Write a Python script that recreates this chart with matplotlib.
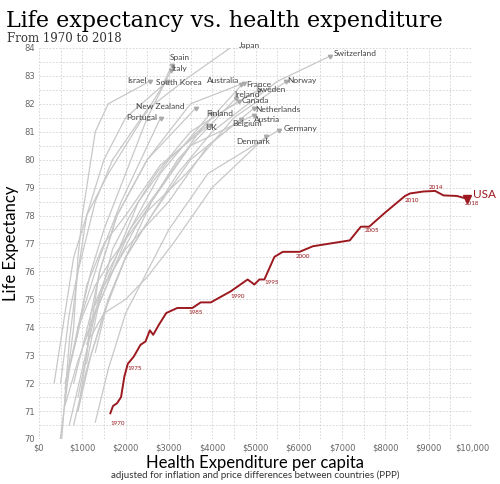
import matplotlib
matplotlib.use("Agg")
import matplotlib.pyplot as plt
from matplotlib.ticker import MultipleLocator, FuncFormatter

# USA trajectory (spending per capita, life expectancy)
usa_x = [1647, 1709, 1802, 1895, 1972, 2050, 2189, 2343, 2459, 2560, 2637, 2769, 2939,
         3194, 3542, 3735, 3968, 4432, 4818, 4973, 5089, 5205, 5437, 5630, 6017, 6326,
         7177, 7432, 7625, 7989, 8453, 8569, 8878, 9149, 9342, 9652, 9884]
usa_y = [70.92, 71.18, 71.28, 71.50, 72.24, 72.69, 72.95, 73.37, 73.49, 73.89, 73.73, 74.09,
         74.51, 74.69, 74.69, 74.89, 74.89, 75.29, 75.71, 75.53, 75.71, 75.71, 76.52, 76.70,
         76.70, 76.90, 77.11, 77.60, 77.60, 78.10, 78.70, 78.79, 78.86, 78.88, 78.72, 78.70, 78.60]
# year labels: (year, index into usa arrays, dx, dy)
usa_years = [("1970", 0, 0, -0.35), ("1975", 5, 0, -0.15), ("1985", 14, -100, -0.15),
             ("1990", 17, 0, -0.2), ("1995", 21, 0, -0.1), ("2000", 24, -100, -0.15),
             ("2005", 28, -100, -0.15), ("2010", 30, 0, -0.15), ("2014", 33, -150, 0.12),
             ("2018", 36, -50, -0.18)]

# other countries: rough waypoints
countries = {
    "Japan": ([500, 700, 900, 1300, 1700, 2500, 3500, 4509], [72.0, 74.5, 76.0, 78.5, 80.0, 81.8, 83.0, 84.1]),
    "Switzerland": ([1300, 1600, 2000, 2600, 3200, 4000, 5500, 6713], [73.1, 75.0, 76.5, 78.0, 79.5, 81.0, 82.8, 83.7]),
    "Spain": ([350, 600, 800, 1100, 1600, 2400, 2800, 3078], [72.0, 74.5, 76.5, 78.0, 79.5, 81.5, 82.5, 83.4]),
    "Italy": ([600, 900, 1200, 1500, 2000, 2500, 3055], [71.8, 74.0, 76.0, 77.5, 79.5, 81.5, 83.2]),
    "Israel": ([600, 800, 900, 1000, 1300, 1600, 2552], [71.5, 74.0, 76.5, 78.0, 81.0, 82.0, 82.8]),
    "South Korea": ([300, 500, 700, 900, 1100, 1500, 2000, 2962], [62, 69.5, 73.5, 76.0, 78.0, 80.0, 81.5, 82.8]),
    "Australia": ([900, 1200, 1400, 1800, 2500, 3500, 4663], [71.0, 74.0, 76.0, 78.0, 80.0, 82.0, 82.7]),
    "France": ([800, 1200, 1600, 2100, 2800, 3700, 4725], [72.0, 74.5, 76.0, 77.5, 79.0, 81.0, 82.75]),
    "Norway": ([900, 1300, 1700, 2400, 3400, 4500, 5708], [74.0, 75.5, 76.5, 78.0, 79.5, 81.5, 82.8]),
    "Sweden": ([1300, 1600, 1900, 2300, 3000, 4000, 5073], [74.8, 75.8, 77.0, 78.5, 80.0, 81.5, 82.5]),
    "Ireland": ([600, 900, 1300, 1700, 2200, 3200, 4548], [71.2, 72.8, 74.5, 76.0, 77.5, 80.0, 82.2]),
    "Canada": ([1100, 1400, 1700, 2100, 2700, 3500, 4625], [72.7, 75.0, 76.8, 78.0, 79.5, 81.0, 82.1]),
    "New Zealand": ([900, 1100, 1200, 1400, 1800, 2500, 3620], [71.5, 73.0, 74.5, 76.0, 78.0, 80.0, 81.85]),
    "Netherlands": ([1100, 1500, 2000, 2400, 3000, 3900, 4973], [73.7, 75.5, 76.8, 77.5, 78.5, 80.5, 81.85]),
    "Austria": ([800, 1100, 1500, 2000, 2600, 3500, 4973], [70.5, 72.5, 74.5, 76.5, 78.5, 80.5, 81.6]),
    "Finland": ([700, 1000, 1300, 1700, 2100, 2800, 3967], [70.5, 72.5, 74.5, 76.0, 77.5, 79.5, 81.67]),
    "Portugal": ([150, 450, 700, 1000, 1400, 1900, 2807], [60, 69.5, 72.5, 74.5, 76.5, 78.5, 81.5]),
    "Belgium": ([900, 1200, 1600, 2000, 2600, 3500, 4663], [71.0, 73.0, 75.0, 76.5, 78.0, 80.0, 81.45]),
    "UK": ([600, 900, 1100, 1500, 2000, 2800, 3929], [72.0, 73.8, 75.5, 77.0, 78.0, 79.8, 81.25]),
    "Germany": ([1300, 1600, 2000, 2500, 3000, 3900, 5553], [70.6, 72.5, 74.5, 76.0, 77.5, 79.5, 81.07]),
    "Denmark": ([1100, 1500, 2000, 2500, 3100, 4000, 5243], [73.4, 74.5, 75.0, 75.8, 77.0, 79.0, 80.83]),
}
# label offsets (dx, dy, ha)
label_pos = {
    "Japan": (100, 0.0, "left"), "Switzerland": (100, 0.1, "left"), "Spain": (-50, 0.25, "left"),
    "Italy": (0, 0.05, "left"), "Israel": (-60, 0.05, "right"), "South Korea": (-250, -0.05, "left"),
    "Australia": (-30, 0.15, "right"), "France": (50, -0.05, "left"), "Norway": (30, 0.05, "left"),
    "Sweden": (-50, 0.0, "left"), "Ireland": (-50, 0.15, "left"), "Canada": (50, 0.0, "left"),
    "New Zealand": (-250, 0.05, "right"), "Netherlands": (20, -0.05, "left"), "Austria": (0, -0.15, "left"),
    "Finland": (-100, 0.0, "left"), "Portugal": (-80, 0.02, "right"), "Belgium": (-200, -0.15, "left"),
    "UK": (-100, -0.1, "left"), "Germany": (100, 0.05, "left"), "Denmark": (-300, -0.18, "center"),
}

red = "#9c1a1f"
grey = "#c8c8c8"

fig = plt.figure(figsize=(5.0, 4.84), dpi=100)
ax = fig.add_axes([0.078, 0.093, 0.866, 0.808])

for name, (xs, ys) in countries.items():
    ax.plot(xs, ys, color=grey, lw=0.9, zorder=2)
    ax.plot(xs[-1], ys[-1], marker=(3, 0, 60), ms=3.5, color="#aaaaaa", zorder=3)
    dx, dy, ha = label_pos[name]
    ax.text(xs[-1] + dx, ys[-1] + dy, name, fontsize=6, color="#444444", ha=ha, va="center",
            family="Lato", zorder=4)

ax.plot(usa_x, usa_y, color=red, lw=1.4, zorder=5)
ax.plot(usa_x[-1], usa_y[-1], marker="v", ms=6, color=red, zorder=6)
ax.text(usa_x[-1] + 150, usa_y[-1] + 0.15, "USA", color=red, fontsize=8.5, va="center", family="Lato")
for yr, i, dx, dy in usa_years:
    ax.text(usa_x[i] + dx, usa_y[i] + dy, yr, color=red, fontsize=4.5, ha="left", va="center", family="Lato")

ax.set_xlim(0, 10000)
ax.set_ylim(70, 84)
ax.xaxis.set_major_locator(MultipleLocator(1000))
ax.xaxis.set_minor_locator(MultipleLocator(500))
ax.yaxis.set_major_locator(MultipleLocator(1))
ax.yaxis.set_minor_locator(MultipleLocator(0.5))
ax.xaxis.set_major_formatter(FuncFormatter(
    lambda v, p: "\\$0" if v == 0 else ("\\$10,000" if v >= 10000 else f"\\${int(v)}")))
ax.grid(which="both", color="#d0d0d0", ls=(0, (2, 2)), lw=0.6)
ax.set_axisbelow(True)
for s in ax.spines.values():
    s.set_visible(False)
ax.tick_params(which="both", length=0, labelsize=6, labelcolor="#666666", pad=3)

ax.set_ylabel("Life Expectancy", fontsize=12, family="Lato", labelpad=4)
ax.set_xlabel("Health Expenditure per capita", fontsize=12, family="Lato", labelpad=2)
fig.text(0.51, 0.012, "adjusted for inflation and price differences between countries (PPP)",
         ha="center", fontsize=7, family="Lato", color="#333333")
fig.text(0.012, 0.945, "Life expectancy vs. health expenditure", fontsize=16, family="DejaVu Serif")
fig.text(0.014, 0.913, "From 1970 to 2018", fontsize=8.5, family="DejaVu Serif", color="#333333")

fig.savefig("out.png", dpi=100)
